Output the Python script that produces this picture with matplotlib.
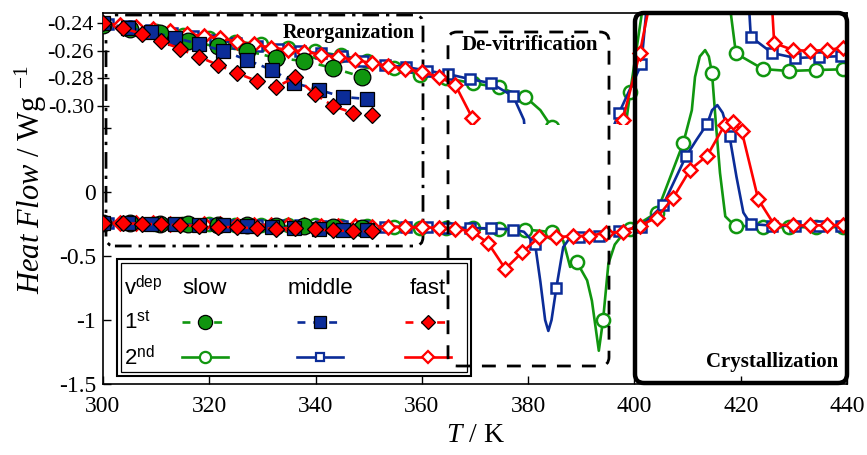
import matplotlib
matplotlib.use('Agg')
import matplotlib.pyplot as plt
from matplotlib.patches import FancyBboxPatch, Rectangle
from matplotlib.lines import Line2D

plt.rcParams['font.family'] = 'Liberation Serif'
plt.rcParams['axes.unicode_minus'] = False
plt.rcParams['mathtext.fontset'] = 'custom'
plt.rcParams['mathtext.rm'] = 'Liberation Serif'
plt.rcParams['mathtext.it'] = 'Liberation Serif:italic'
plt.rcParams['mathtext.sf'] = 'Liberation Sans'

GREEN = '#10960f'
BLUE = '#0b2c98'
RED = '#ff0000'

# ---- 1st run (filled markers, dashed) ----
T_slow1 = [300, 305.1, 310.7, 316, 321.7, 327.1, 332.6, 337.9, 343.3, 348.8]
hf_slow1 = [-0.2414, -0.2443, -0.2472, -0.2530, -0.2566, -0.2602, -0.2653, -0.2675, -0.2726, -0.2790]

T_mid1 = [300, 304.7, 309, 313.6, 318.1, 322.6, 327.1, 331.8, 336, 340.7, 345.2, 349.7]
hf_mid1 = [-0.24, -0.2436, -0.2465, -0.2508, -0.2552, -0.2602, -0.2667, -0.2740, -0.2834, -0.2884, -0.2935, -0.2949]

T_fast1 = [300, 303.8, 307.3, 310.9, 314.5, 318.1, 321.7, 325.2, 329, 332.6, 336.2, 339.8, 343.3, 347.1, 350.7]
hf_fast1 = [-0.24, -0.2436, -0.248, -0.253, -0.2588, -0.2646, -0.2704, -0.2762, -0.282, -0.2863, -0.279, -0.2913, -0.30, -0.3051, -0.3065]

# ---- 2nd run (open markers, solid) ----
T_slow2 = [300, 305, 310, 315, 320, 324.9, 329.8, 334.8, 339.8, 344.7, 349.7, 354.7, 359.7, 364.6, 369.6, 374.5, 379.5,
           382.3, 384.4, 386.6, 387.9, 389.2, 391.1, 392.0, 393.3, 394.1, 395.1, 396.3, 397.8, 399.2, 404.2, 409.2,
           410.8, 411.4, 412.3, 413.3, 414.0, 414.6, 415.3, 416.1, 417.1, 418.2, 419.1, 424.2, 429.1, 434.1, 439.2, 440]
hf_slow2 = [-0.2415, -0.2435, -0.246, -0.2485, -0.251, -0.2535, -0.2555, -0.258, -0.2605, -0.2635, -0.2675, -0.2725,
            -0.2775, -0.280, -0.2835, -0.2865, -0.2935,
            -0.303, -0.315, -0.38, -0.585, -0.55, -0.69, -0.85, -1.24, -1.0, -0.56, -0.41, -0.33, -0.29, -0.16, 0.385,
            0.64, 0.90, 1.06, 1.11, 1.06, 0.93, 0.55, 0.15, -0.19, -0.235, -0.262, -0.2733, -0.2747, -0.274, -0.2735, -0.2735]
mk_slow2 = list(range(17)) + [18, 21, 25, 29, 30, 31, 37, 42, 43, 44, 45, 46]

T_mid2 = [301, 305, 309, 313, 317, 321, 325, 329, 333, 337, 341, 345, 349, 353, 357, 361, 365, 369, 373, 377.2,
          379.2, 381.3, 382.3, 383.2, 383.8, 384.4, 385.3, 386.6, 387.9, 389.6, 393.4, 397.1, 401.3, 405.4, 409.7,
          411.7, 413.7, 414.6, 415.6, 416.6, 417.9, 419.2, 420.5, 421.9, 425.9, 430.3, 434.7, 438.8, 440]
hf_mid2 = [-0.2405, -0.2425, -0.245, -0.2475, -0.2495, -0.252, -0.2545, -0.2565, -0.2585, -0.2605, -0.262, -0.264,
           -0.2675, -0.2705, -0.2718, -0.2745, -0.277, -0.2805, -0.2835, -0.293,
           -0.31, -0.405, -0.70, -1.0, -1.085, -1.0, -0.75, -0.43, -0.355, -0.35, -0.34, -0.305, -0.27, -0.10, 0.28,
           0.41, 0.534, 0.64, 0.68, 0.62, 0.436, 0.12, -0.16, -0.25, -0.2617, -0.2653, -0.2646, -0.264, -0.2639]
mk_mid2 = list(range(20)) + [21, 26, 29, 30, 31, 32, 33, 34, 36, 40, 43, 44, 45, 46, 47]

T_fast2 = [300, 303.2, 306.3, 309.5, 312.6, 315.8, 319, 322.1, 325.3, 328.4, 331.6, 334.8, 337.9, 341.1, 344.2, 347.4,
           350.6, 353.7, 356.9, 360, 363.2, 366.3, 369.5, 372.5, 375.7, 378.9, 382.1, 385.3, 388.5, 391.5, 394.6,
           397.8, 401.0, 404.2, 407.3, 410.5, 413.7, 417.0, 418.5, 420.2, 423.3, 426.3, 429.8, 433.0, 436.2, 439.2, 440]
hf_fast2 = [-0.240, -0.2415, -0.243, -0.2445, -0.246, -0.2478, -0.2495, -0.251, -0.2535, -0.2555, -0.258, -0.2592,
            -0.2607, -0.263, -0.2646, -0.2667, -0.269, -0.271, -0.2733, -0.2754, -0.279, -0.2848, -0.3087, -0.40,
            -0.60, -0.47, -0.35, -0.35, -0.345, -0.34, -0.32, -0.31, -0.262, -0.20, -0.044, 0.176, 0.285, 0.526,
            0.55, 0.474, -0.057, -0.2545, -0.2595, -0.2602, -0.2595, -0.258, -0.258]
mk_fast2 = list(range(46))

runs2 = [(T_slow2, hf_slow2, mk_slow2, GREEN, 'o', 9.5),
         (T_mid2, hf_mid2, mk_mid2, BLUE, 's', 7.5),
         (T_fast2, hf_fast2, mk_fast2, RED, 'D', 7)]
runs1 = [(T_slow1, hf_slow1, GREEN, 'o', 12),
         (T_mid1, hf_mid1, BLUE, 's', 10.5),
         (T_fast1, hf_fast1, RED, 'D', 8.5)]

fig = plt.figure(figsize=(8.67, 4.55), dpi=100)
W, H = 867.0, 455.0
ax = fig.add_axes([103 / W, 1 - 384 / H, 744 / W, 371 / H])
axi = fig.add_axes([103 / W, 1 - 124 / H, 744 / W, 111 / H], zorder=1)
axi.patch.set_visible(False)

for a in (ax, axi):
    for T, hf, mk, col, m, ms in runs2:
        a.plot(T, hf, color=col, lw=1.9, marker=m, ms=ms, markevery=mk, mfc='white',
               mec=col, mew=1.8, zorder=3)
    for T, hf, col, m, ms in runs1:
        a.plot(T, hf, color=col, lw=1.9, ls=(0, (3, 2.2)), marker=m, ms=ms, mfc=col,
               mec='black', mew=0.9, zorder=4)

ax.set_xlim(300, 440)
ax.set_ylim(-1.5, 1.4)
ax.set_xticks([300, 320, 340, 360, 380, 400, 420, 440])
ax.set_yticks([-1.5, -1, -0.5, 0, 0.5])
ax.set_yticklabels(['-1.5', '-1', '-0.5', '0', ''])
ax.tick_params(direction='in', length=6, width=1, labelsize=17, pad=5)
ax.tick_params(axis='x', pad=9)
for s in ax.spines.values():
    s.set_linewidth(1.2)

axi.set_xlim(300, 440)
axi.set_ylim(-0.313, -0.2328)
axi.set_yticks([-0.24, -0.26, -0.28, -0.30])
axi.set_yticklabels(['-0.24', '-0.26', '-0.28', '-0.30'])
axi.tick_params(axis='y', direction='inout', length=9, width=1, labelsize=16, pad=2)
axi.xaxis.set_visible(False)
for s in axi.spines.values():
    s.set_visible(False)

ax.set_xlabel(r'$T$ / K', fontsize=20, labelpad=4)
fig.text(0.036, 1 - 180 / H, r'$\mathit{Heat\ Flow}$ / Wg $^{-1}$', rotation=90,
         fontsize=22, ha='center', va='center')

def axbox(x0, y0, x1, y1, **kw):
    p = FancyBboxPatch((x0, y0), x1 - x0, y1 - y0,
                       boxstyle='round,pad=0,rounding_size=0.012',
                       mutation_aspect=744 / 371, transform=ax.transAxes,
                       fill=False, clip_on=False, **kw)
    return p

def fx(px):
    return (px - 103) / 744.0

def fy(py):
    return (384 - py) / 371.0

ax.add_patch(axbox(fx(106), fy(246), fx(423), fy(15), lw=2, ls=(0, (6, 2.5, 1.2, 2.5)),
                   ec='black', zorder=2))
fig.add_artist(axbox(fx(448), fy(366), fx(609), fy(32), lw=2, ls=(0, (5, 4)), ec='black', zorder=5))
fig.add_artist(axbox(fx(635), fy(383), fx(847), fy(13), lw=3.2, ec='black', zorder=5))

fig.text(415 / W, 1 - 33 / H, 'Reorganization', fontsize=14.5, fontweight='bold',
         ha='right', va='center', zorder=6)
fig.text(530 / W, 1 - 45 / H, 'De-vitrification', fontsize=15, fontweight='bold',
         ha='center', va='center', zorder=6)
fig.text(772 / W, 1 - 362 / H, 'Crystallization', fontsize=15, fontweight='bold',
         ha='center', va='center', zorder=6)

# legend drawn as a small table
ax.add_patch(Rectangle((fx(117), fy(376)), fx(471) - fx(117), fy(259) - fy(376), transform=ax.transAxes,
                       fc='white', ec='black', lw=1.5, zorder=6))
ax.add_patch(Rectangle((fx(121), fy(372)), fx(467) - fx(121), fy(263) - fy(372), transform=ax.transAxes,
                       fill=False, ec='black', lw=0.9, zorder=7))
sans = 'Liberation Sans'
for txt, py in [(r'$\mathsf{v}^{\mathsf{dep}}$', 287), (r'$\mathsf{1}^{\mathsf{st}}$', 322),
                (r'$\mathsf{2}^{\mathsf{nd}}$', 357)]:
    ax.text(fx(124), fy(py), txt, transform=ax.transAxes, fontsize=16, ha='left', va='center', zorder=8)
names = ['slow', 'middle', 'fast']
cols_px = [205, 320, 428]
for name, cx in zip(names, cols_px):
    ax.text(fx(cx), fy(288), name, transform=ax.transAxes, fontsize=16, family=sans,
            ha='center', va='center', zorder=8)
for (T, hf, col, m, ms), (_, _, _, _, _, ms2), cx in zip(runs1, runs2, cols_px):
    x0, x1 = fx(cx - 23), fx(cx + 23)
    ax.add_line(Line2D([x0, fx(cx), x1], [fy(322)] * 3, transform=ax.transAxes, color=col, lw=1.9,
                       ls=(0, (3, 3)), marker=m, ms=ms * 0.85, markevery=[1], mfc=col, mec='black',
                       mew=0.9, zorder=8))
    ax.add_line(Line2D([x0, fx(cx), x1], [fy(357)] * 3, transform=ax.transAxes, color=col, lw=1.9,
                       marker=m, ms=ms2 * 0.85, markevery=[1], mfc='white', mec=col, mew=1.6, zorder=8))

fig.savefig('out.png', dpi=100)
